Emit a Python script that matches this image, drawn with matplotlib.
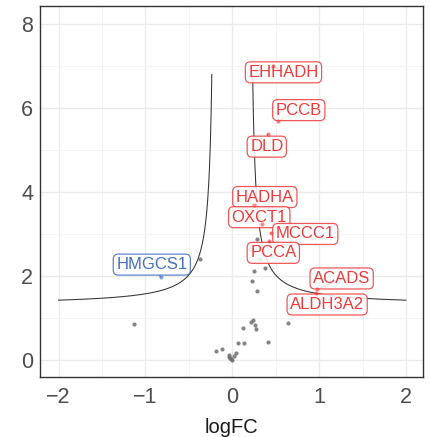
import numpy as np
import matplotlib
matplotlib.use("Agg")
import matplotlib.pyplot as plt

plt.rcParams['font.family'] = ['Liberation Sans', 'DejaVu Sans']

# unlabelled genes (logFC, -log10 p)
other_fc = [0.224, 0.282, 0.213, 0.236, 0.262, 0.270, 0.121, 0.646, 0.063, 0.132,
            0.412, -0.186, -0.114, 0.040, 0.024, -0.040, -0.033, -0.025, -0.017, -0.006,
            0.285, 0.205, 0.243, 0.320, 0.374, 0.254, -0.371, -1.127]
other_p = [1.88, 1.65, 0.91, 0.95, 0.83, 0.73, 0.75, 0.89, 0.41, 0.41,
           0.42, 0.21, 0.25, 0.16, 0.09, 0.11, 0.08, 0.05, 0.02, 0.00,
           2.88, 2.64, 2.62, 2.40, 2.19, 2.11, 2.40, 0.85]

# labelled genes
genes = ["EHHADH", "PCCB", "DLD", "HADHA", "OXCT1", "MCCC1", "PCCA", "ACADS", "ALDH3A2", "HMGCS1"]
gene_fc = [0.473, 0.530, 0.409, 0.254, 0.339, 0.443, 0.427, 0.979, 0.961, -0.823]
gene_p = [7.01, 5.69, 5.37, 3.69, 3.23, 3.02, 2.83, 1.68, 1.59, 1.97]
label_x = [0.590, 0.766, 0.398, 0.375, 0.311, 0.841, 0.473, 1.26, 1.093, -0.926]
label_y = [6.85, 5.95, 5.08, 3.88, 3.40, 3.00, 2.55, 1.94, 1.32, 2.27]

# threshold curve: y = y0 + c / (|x| - x0)
curve_y0 = 1.301
curve_c = 0.22
curve_x0 = 0.195
curve_top = 6.8

red = "#EE3B3B"
blue = "#4470C0"

fig = plt.figure(figsize=(4.31, 4.37), dpi=100)
ax = fig.add_axes([40.3 / 431, 1 - 376.7 / 437, (423.3 - 40.3) / 431, (376.7 - 6) / 437])

for side in (-1, 1):
    xs = np.linspace(curve_x0 + curve_c / (curve_top - curve_y0), 2.0, 600)
    ys = curve_y0 + curve_c / (xs - curve_x0)
    ax.plot(side * xs, ys, color="#333333", lw=0.75, zorder=2)

ax.scatter(other_fc, other_p, s=9, color="#707070", alpha=0.85, lw=0, zorder=3)

for g, fx, py, lx, ly in zip(genes, gene_fc, gene_p, label_x, label_y):
    col = blue if fx < 0 else red
    ax.annotate(g, xy=(fx, py), xytext=(lx, ly), ha="center", va="center",
                fontsize=12, color=col, zorder=4,
                bbox=dict(boxstyle="round,pad=0.18,rounding_size=0.3", fc="white",
                          ec=col, lw=0.9, alpha=0.85),
                arrowprops=dict(arrowstyle="-", color=col, lw=0.8, shrinkA=0, shrinkB=2))
    ax.scatter([fx], [py], s=9, color=col, alpha=0.6, lw=0, zorder=5)

ax.set_xlim(-2.21, 2.20)
ax.set_ylim(-0.40, 8.43)
ax.set_xticks([-2, -1, 0, 1, 2])
ax.set_yticks([0, 2, 4, 6, 8])
ax.set_xticks([-1.5, -0.5, 0.5, 1.5], minor=True)
ax.set_yticks([1, 3, 5, 7], minor=True)
ax.grid(which="major", color="#EBEBEB", lw=1.0)
ax.grid(which="minor", color="#F2F2F2", lw=0.6)
ax.set_axisbelow(True)
ax.tick_params(which="both", length=0, labelsize=15.5, labelcolor="#4D4D4D")
ax.tick_params(axis="x", pad=7.5)
ax.tick_params(axis="y", pad=5)
for s in ax.spines.values():
    s.set_color("#333333")
    s.set_linewidth(1.0)
ax.set_xticklabels(["\u22122", "\u22121", "0", "1", "2"])
ax.set_xlabel("logFC", fontsize=14.5, color="#1A1A1A", labelpad=7)

fig.savefig("out.png", dpi=100)
